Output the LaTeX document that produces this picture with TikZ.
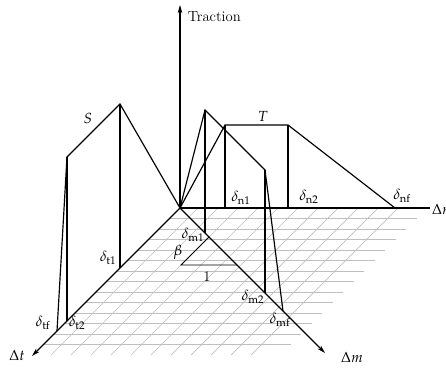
\documentclass[tikz,border=0pt]{standalone}
\usepackage{mathpazo}
\usetikzlibrary{arrows.meta}

\begin{document}
\begin{tikzpicture}[x=0.3mm,y=0.3mm,
  law/.style={line width=1pt},
  axis/.style={line width=1pt},
  hatch/.style={gray!50,line width=0.6pt},
  lbl/.style={font=\fontsize{12.5}{15}\selectfont,inner sep=0.5pt}]
  \useasboundingbox (-180,-160) rectangle (266,208);
  % hatched base plane
  \foreach \k in {1,...,13}
    \draw[hatch] (-10.5*\k,-10.5*\k) -- (247-10.5*\k,-10.5*\k);
  \foreach \d in {18,38,...,218}
    \draw[hatch] (\d,0) -- (\d-147,-147);
  % axes
  \coordinate (O) at (0,0);
  \coordinate (trac) at (0,203);
  \coordinate (dn) at (250,0);
  \coordinate (dt) at (-148,-148);
  \coordinate (dm) at (145,-145);
  \draw[axis,-{Stealth[length=7pt,width=4pt]}] (O) -- (trac);
  \draw[axis] (O) -- (dn);
  \draw[axis,-{Stealth[length=7pt,width=4pt]}] (O) -- (dt);
  \draw[axis,-{Stealth[length=7pt,width=4pt]}] (O) -- (dm);
  \node[lbl,anchor=west] (tracl) at (7,191) {Traction};
  \node[lbl,anchor=west] (dnl) at (251,-1) {$\Delta n$};
  \node[lbl] (dtl) at (-163,-147) {$\Delta t$};
  \node[lbl] (dml) at (172,-149) {$\Delta m$};
  % normal law T
  \coordinate (n1) at (45,0);
  \coordinate (n2) at (108,0);
  \coordinate (nf) at (215,0);
  \coordinate (n1top) at (45,83);
  \coordinate (n2top) at (108,83);
  \draw[law] (O) -- (n1top) -- (n2top) -- (nf);
  \draw[law] (n1top) -- (n1);
  \draw[law] (n2top) -- (n2);
  \node[lbl] (T) at (83,92) {$T$};
  \node[lbl] (n1l) at (61,10) {$\delta_{\mathrm{n1}}$};
  \node[lbl] (n2l) at (129,11) {$\delta_{\mathrm{n2}}$};
  \node[lbl] (nfl) at (222,12) {$\delta_{\mathrm{nf}}$};
  % law along m
  \coordinate (m1) at (25,-25);
  \coordinate (m2) at (85,-85);
  \coordinate (mf) at (103,-103);
  \coordinate (m1top) at (25,98);
  \coordinate (m2top) at (85,38);
  \draw[law] (O) -- (m1top) -- (m2top) -- (mf);
  \draw[law] (m1top) -- (m1);
  \draw[law] (m2top) -- (m2);
  \node[lbl] (m1l) at (13,-27) {$\delta_{\mathrm{m1}}$};
  \node[lbl] (m2l) at (73,-89) {$\delta_{\mathrm{m2}}$};
  \node[lbl] (mfl) at (100,-112) {$\delta_{\mathrm{mf}}$};
  % slope triangle
  \coordinate (b1) at (29,-29);
  \coordinate (b2) at (1,-57);
  \coordinate (b3) at (57,-57);
  \draw[line width=0.8pt] (b1) -- (b2) -- (b3);
  \node[lbl] (beta) at (-2,-44) {$\beta$};
  \node[lbl] (one) at (27,-69) {1};
  % shear law S
  \coordinate (t1) at (-60,-60);
  \coordinate (t2) at (-113,-113);
  \coordinate (tf) at (-123,-123);
  \coordinate (t1top) at (-60,104);
  \coordinate (t2top) at (-113,51);
  \draw[law] (O) -- (t1top) -- (t2top) -- (tf);
  \draw[law] (t1top) -- (t1);
  \draw[law] (t2top) -- (t2);
  \node[lbl] (S) at (-92,90) {$S$};
  \node[lbl] (t1l) at (-72,-50) {$\delta_{\mathrm{t1}}$};
  \node[lbl] (t2l) at (-103,-115) {$\delta_{\mathrm{t2}}$};
  \node[lbl] (tfl) at (-137,-115) {$\delta_{\mathrm{tf}}$};
\end{tikzpicture}
\end{document}
